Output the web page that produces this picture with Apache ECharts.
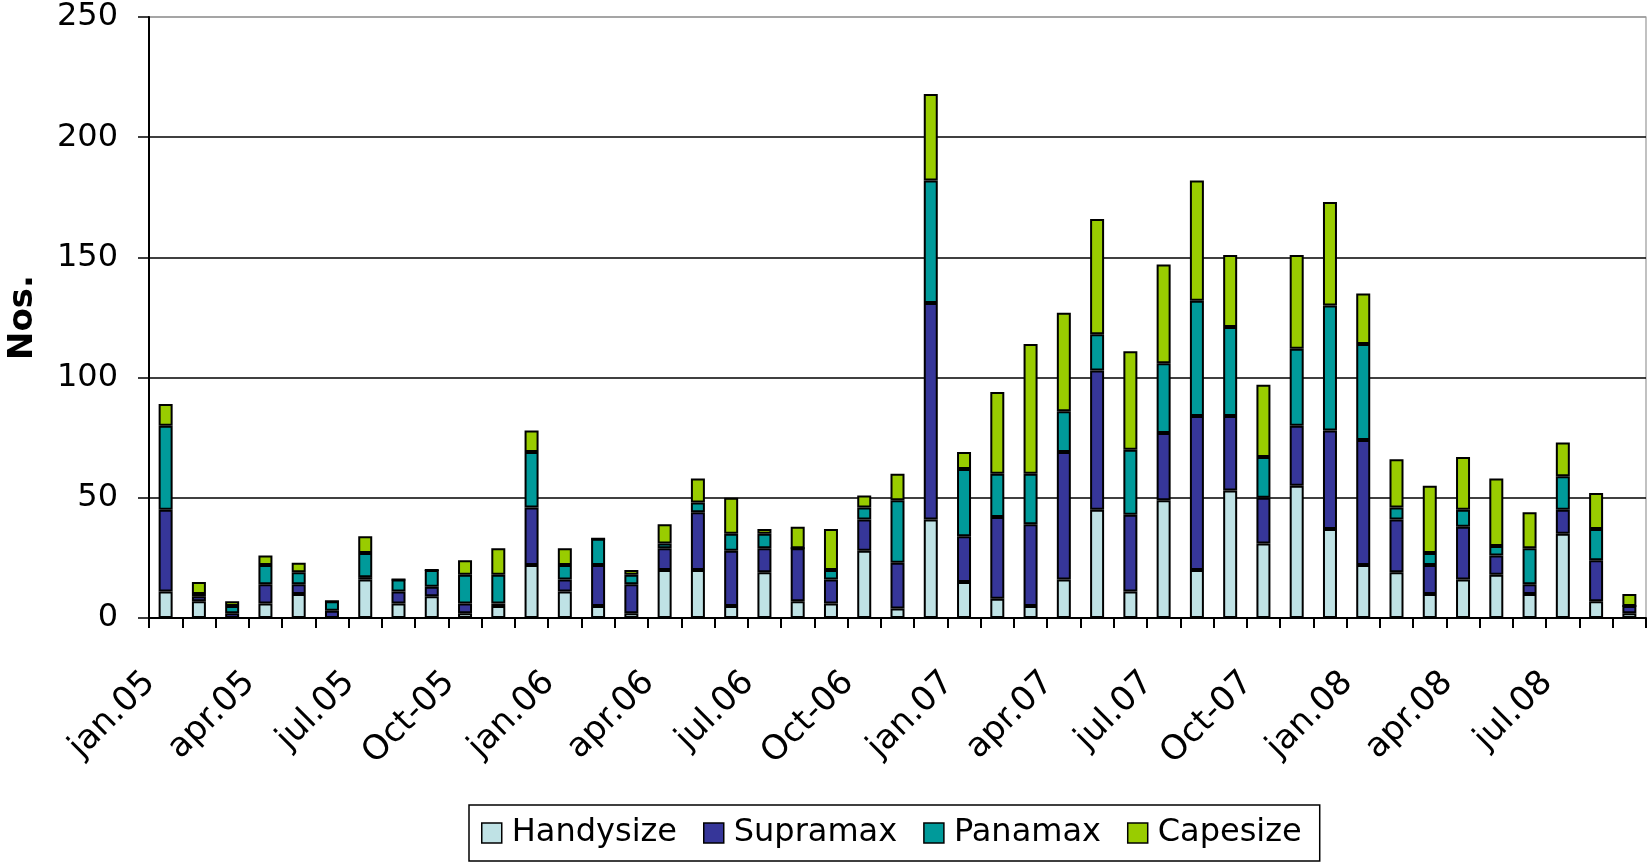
<!DOCTYPE html>
<html>
<head>
<meta charset="utf-8">
<script src="https://cdn.jsdelivr.net/npm/echarts@6/dist/echarts.min.js"></script>
<style>
  html, body { margin: 0; padding: 0; background: #fff; }
  #chart { width: 1648px; height: 864px; }
</style>
</head>
<body>
<div id="chart"></div>
<script>
// months jan.05 - sep.08
var months = [
  'jan.05', 'feb.05', 'mar.05', 'apr.05', 'may.05', 'jun.05', 'jul.05', 'aug.05', 'sep.05', 'Oct-05', 'nov.05', 'dec.05',
  'jan.06', 'feb.06', 'mar.06', 'apr.06', 'may.06', 'jun.06', 'jul.06', 'aug.06', 'sep.06', 'Oct-06', 'nov.06', 'dec.06',
  'jan.07', 'feb.07', 'mar.07', 'apr.07', 'may.07', 'jun.07', 'jul.07', 'aug.07', 'sep.07', 'Oct-07', 'nov.07', 'dec.07',
  'jan.08', 'feb.08', 'mar.08', 'apr.08', 'may.08', 'jun.08', 'jul.08', 'aug.08', 'sep.08'
];

var handysize = [11, 7, 0, 6, 10, 0, 16, 6, 9, 2, 5, 22, 11, 5, 2, 20, 20, 5, 19, 7, 6, 28, 4, 41, 15, 8, 5, 16, 45, 11, 49, 20, 53, 31, 55, 37, 22, 19, 10, 16, 18, 10, 35, 7, 2];
var supramax  = [34, 2, 2, 8, 4, 3, 1, 5, 4, 4, 1, 24, 5, 17, 12, 9, 24, 23, 10, 22, 10, 13, 19, 90, 19, 34, 34, 53, 58, 32, 28, 64, 31, 19, 25, 41, 52, 22, 12, 22, 8, 4, 10, 17, 3];
var panamax   = [35, 1, 3, 8, 5, 4, 10, 5, 7, 12, 12, 23, 6, 11, 4, 2, 4, 7, 6, 0, 4, 5, 26, 51, 28, 18, 21, 17, 15, 27, 29, 48, 37, 17, 32, 52, 40, 5, 5, 7, 4, 15, 14, 13, 0];
var capesize  = [9, 5, 2, 4, 4, 0, 7, 0, 0, 6, 11, 9, 7, 0, 2, 8, 10, 15, 2, 9, 17, 5, 11, 36, 7, 34, 54, 41, 48, 41, 41, 50, 30, 30, 39, 43, 21, 20, 28, 22, 28, 15, 14, 15, 5];

var font = 'DejaVu Sans';

function bar(name, data, color) {
  return {
    name: name,
    type: 'bar',
    stack: 'total',
    barWidth: 14,
    data: data,
    animation: false,
    itemStyle: {
      color: color,
      borderColor: '#000',
      borderWidth: 2
    }
  };
}

var chart = echarts.init(document.getElementById('chart'));
chart.setOption({
  backgroundColor: '#fff',
  textStyle: { fontFamily: font, color: '#000' },
  grid: {
    left: 149,
    right: 2,
    top: 17,
    bottom: 246,
    outerBoundsMode: 'none',
    show: true,
    borderColor: '#999',
    borderWidth: 1.2
  },
  legend: {
    left: 469,
    top: 805,
    padding: [12, 18, 12, 12],
    borderColor: '#000',
    borderWidth: 1.5,
    itemWidth: 20,
    itemHeight: 20,
    itemGap: 26,
    icon: 'rect',
    itemStyle: { borderColor: '#000', borderWidth: 1.5 },
    textStyle: { fontFamily: font, fontSize: 32, color: '#000', padding: [0, 0, 0, 5] },
    data: ['Handysize', 'Supramax', 'Panamax', 'Capesize']
  },
  xAxis: {
    type: 'category',
    data: months,
    axisLine: { lineStyle: { color: '#000', width: 2 } },
    axisTick: { show: true, interval: 0, length: 10, lineStyle: { color: '#000', width: 2 } },
    axisLabel: {
      interval: 2,
      rotate: 45,
      margin: 44,
      padding: [0, 22, 0, 0],
      fontFamily: font,
      fontSize: 34,
      color: '#000'
    }
  },
  yAxis: {
    type: 'value',
    min: 0,
    max: 250,
    interval: 50,
    name: 'Nos.',
    nameLocation: 'middle',
    nameRotate: 90,
    nameGap: 109,
    nameTextStyle: { fontFamily: font, fontSize: 34, fontWeight: 'bold', color: '#000' },
    axisLine: { show: true, lineStyle: { color: '#000', width: 2 } },
    axisTick: { show: true, length: 11, lineStyle: { color: '#000', width: 1.5 } },
    axisLabel: { margin: 31, fontFamily: font, fontSize: 32, color: '#000' },
    splitLine: { lineStyle: { color: ['#000', '#000', '#000', '#000', '#000', '#999'], width: 1.6 } }
  },
  series: [
    bar('Handysize', handysize, '#BFE2E5'),
    bar('Supramax', supramax, '#363699'),
    bar('Panamax', panamax, '#009A9A'),
    bar('Capesize', capesize, '#99CC00')
  ]
});
</script>
</body>
</html>
